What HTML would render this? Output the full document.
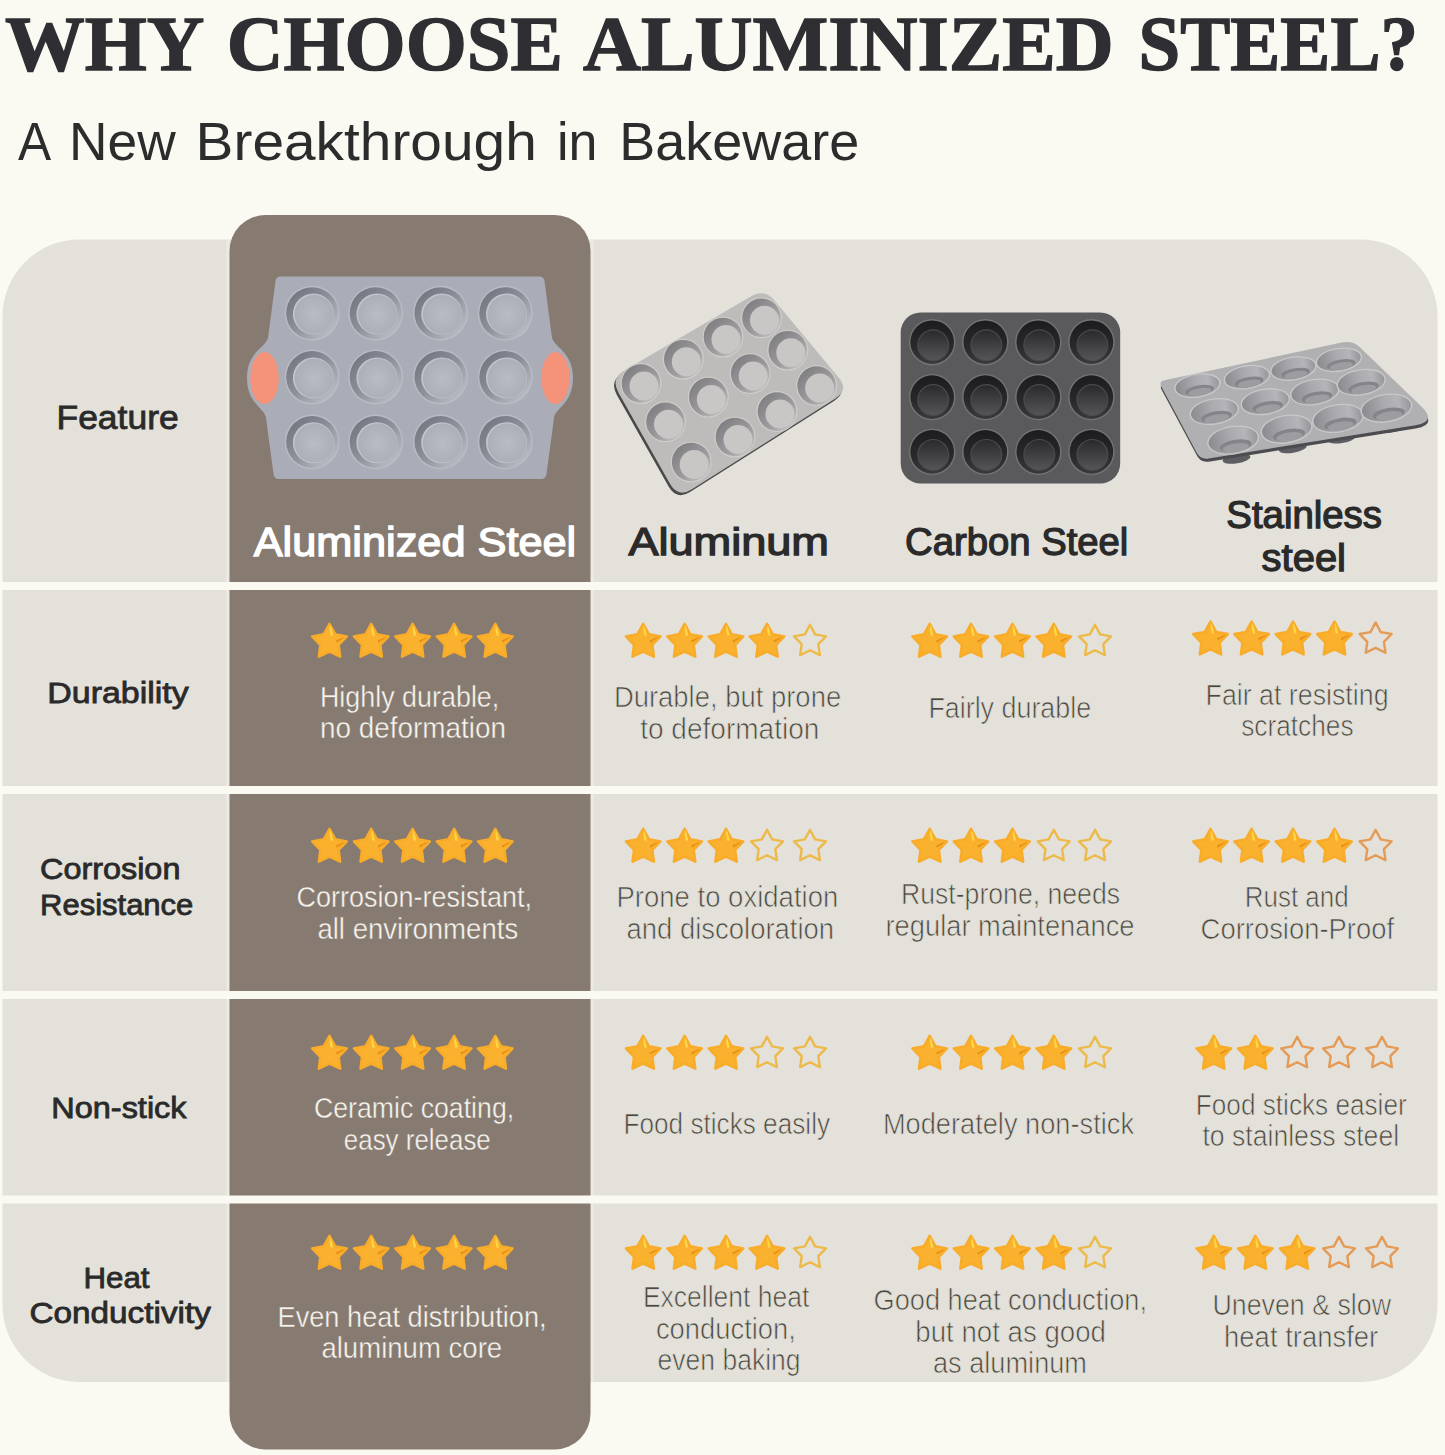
<!DOCTYPE html>
<html><head><meta charset="utf-8"><style>
html,body{margin:0;padding:0;background:#FAFAF3;width:1445px;height:1455px;overflow:hidden;}
svg{position:absolute;left:0;top:0;}
</style></head><body>
<svg width="1445" height="1455" viewBox="0 0 1445 1455">
<defs>

<linearGradient id="alwall" x1="0" y1="0" x2="1" y2="1">
<stop offset="0" stop-color="#6c6f7a"/><stop offset="0.5" stop-color="#8e919b"/><stop offset="1" stop-color="#c8cad1"/>
</linearGradient>
<radialGradient id="albot" cx="0.5" cy="0.5" r="0.5">
<stop offset="0" stop-color="#b9bbc5"/><stop offset="1" stop-color="#acaeb8"/>
</radialGradient>
<linearGradient id="aluwall" x1="0" y1="0" x2="1" y2="1">
<stop offset="0" stop-color="#77767a"/><stop offset="0.6" stop-color="#9e9c9e"/><stop offset="1" stop-color="#cfcdcc"/>
</linearGradient>
<linearGradient id="cswall" x1="0" y1="0" x2="0" y2="1">
<stop offset="0" stop-color="#1c1c1e"/><stop offset="0.6" stop-color="#29292b"/><stop offset="1" stop-color="#3a3a3c"/>
</linearGradient>
<linearGradient id="csbot" x1="0" y1="0" x2="0" y2="1">
<stop offset="0" stop-color="#2a2a2c"/><stop offset="1" stop-color="#555557"/>
</linearGradient>
<linearGradient id="sswall" x1="0" y1="0" x2="1" y2="0">
<stop offset="0" stop-color="#8a8a8f"/><stop offset="0.45" stop-color="#a9a9ae"/><stop offset="0.75" stop-color="#b4b4b9"/><stop offset="1" stop-color="#96969a"/>
</linearGradient>

<linearGradient id="sg" x1="0" y1="0" x2="0" y2="1">
<stop offset="0" stop-color="#FDBE3A"/><stop offset="1" stop-color="#F7A722"/>
</linearGradient>
</defs>
<rect x="0" y="0" width="1445" height="1455" fill="#FAFAF3"/>
<rect x="2.5" y="239.5" width="1435" height="1142.5" rx="77" ry="77" fill="#E3E1DA"/>
<rect x="226.5" y="239.5" width="3" height="1142.5" fill="#ECEBE3"/>
<rect x="590.5" y="239.5" width="3" height="1143" fill="#ECEBE3"/>
<rect x="229.5" y="215" width="361" height="1234.5" rx="36" ry="36" fill="#877A70"/>
<rect x="0" y="582" width="1445" height="8" fill="#FAFAF3"/>
<rect x="0" y="786" width="1445" height="8" fill="#FAFAF3"/>
<rect x="0" y="991" width="1445" height="8" fill="#FAFAF3"/>
<rect x="0" y="1195.5" width="1445" height="8" fill="#FAFAF3"/>
<path d="M 281,276.5 L 539,276.5 Q 544,276.5 544.5,281 L 552,338 C 555,348 573,352 573,378 C 573,404 555,408 554,418 L 546.5,474 Q 546,479 541,479 L 279,479 Q 274,479 273.5,474 L 266,418 C 265,408 247,404 247,378 C 247,352 265,348 268,338 L 275.5,281 Q 276,276.5 281,276.5 Z" fill="#AAACB7"/>
<ellipse cx="264.5" cy="378" rx="14.2" ry="26" fill="#F4937A"/>
<ellipse cx="555.5" cy="378" rx="14.2" ry="26" fill="#F4937A"/>
<circle cx="312.2" cy="313.2" r="27.5" fill="#B9BBC4"/>
<circle cx="312.2" cy="313.2" r="26" fill="url(#alwall)"/>
<circle cx="313.4" cy="314.0" r="20.5" fill="#C3C5CD"/>
<circle cx="314.0" cy="314.4" r="19.5" fill="url(#albot)"/>
<circle cx="375.7" cy="313.2" r="27.5" fill="#B9BBC4"/>
<circle cx="375.7" cy="313.2" r="26" fill="url(#alwall)"/>
<circle cx="376.9" cy="314.0" r="20.5" fill="#C3C5CD"/>
<circle cx="377.5" cy="314.4" r="19.5" fill="url(#albot)"/>
<circle cx="440.5" cy="313.2" r="27.5" fill="#B9BBC4"/>
<circle cx="440.5" cy="313.2" r="26" fill="url(#alwall)"/>
<circle cx="441.7" cy="314.0" r="20.5" fill="#C3C5CD"/>
<circle cx="442.3" cy="314.4" r="19.5" fill="url(#albot)"/>
<circle cx="505.3" cy="313.2" r="27.5" fill="#B9BBC4"/>
<circle cx="505.3" cy="313.2" r="26" fill="url(#alwall)"/>
<circle cx="506.5" cy="314.0" r="20.5" fill="#C3C5CD"/>
<circle cx="507.1" cy="314.4" r="19.5" fill="url(#albot)"/>
<circle cx="312.2" cy="377.1" r="27.5" fill="#B9BBC4"/>
<circle cx="312.2" cy="377.1" r="26" fill="url(#alwall)"/>
<circle cx="313.4" cy="377.90000000000003" r="20.5" fill="#C3C5CD"/>
<circle cx="314.0" cy="378.3" r="19.5" fill="url(#albot)"/>
<circle cx="375.7" cy="377.1" r="27.5" fill="#B9BBC4"/>
<circle cx="375.7" cy="377.1" r="26" fill="url(#alwall)"/>
<circle cx="376.9" cy="377.90000000000003" r="20.5" fill="#C3C5CD"/>
<circle cx="377.5" cy="378.3" r="19.5" fill="url(#albot)"/>
<circle cx="440.5" cy="377.1" r="27.5" fill="#B9BBC4"/>
<circle cx="440.5" cy="377.1" r="26" fill="url(#alwall)"/>
<circle cx="441.7" cy="377.90000000000003" r="20.5" fill="#C3C5CD"/>
<circle cx="442.3" cy="378.3" r="19.5" fill="url(#albot)"/>
<circle cx="505.3" cy="377.1" r="27.5" fill="#B9BBC4"/>
<circle cx="505.3" cy="377.1" r="26" fill="url(#alwall)"/>
<circle cx="506.5" cy="377.90000000000003" r="20.5" fill="#C3C5CD"/>
<circle cx="507.1" cy="378.3" r="19.5" fill="url(#albot)"/>
<circle cx="312.2" cy="441.9" r="27.5" fill="#B9BBC4"/>
<circle cx="312.2" cy="441.9" r="26" fill="url(#alwall)"/>
<circle cx="313.4" cy="442.7" r="20.5" fill="#C3C5CD"/>
<circle cx="314.0" cy="443.09999999999997" r="19.5" fill="url(#albot)"/>
<circle cx="375.7" cy="441.9" r="27.5" fill="#B9BBC4"/>
<circle cx="375.7" cy="441.9" r="26" fill="url(#alwall)"/>
<circle cx="376.9" cy="442.7" r="20.5" fill="#C3C5CD"/>
<circle cx="377.5" cy="443.09999999999997" r="19.5" fill="url(#albot)"/>
<circle cx="440.5" cy="441.9" r="27.5" fill="#B9BBC4"/>
<circle cx="440.5" cy="441.9" r="26" fill="url(#alwall)"/>
<circle cx="441.7" cy="442.7" r="20.5" fill="#C3C5CD"/>
<circle cx="442.3" cy="443.09999999999997" r="19.5" fill="url(#albot)"/>
<circle cx="505.3" cy="441.9" r="27.5" fill="#B9BBC4"/>
<circle cx="505.3" cy="441.9" r="26" fill="url(#alwall)"/>
<circle cx="506.5" cy="442.7" r="20.5" fill="#C3C5CD"/>
<circle cx="507.1" cy="443.09999999999997" r="19.5" fill="url(#albot)"/>
<path d="M 616.87,394.93 Q 609.00,381.00 622.81,372.92 L 749.19,298.98 Q 763.00,290.90 773.23,303.20 L 837.27,380.20 Q 847.50,392.50 833.97,401.04 L 690.03,491.96 Q 676.50,500.50 668.63,486.57 Z" fill="#4a4848"/>
<path d="M 618.37,392.43 Q 610.50,378.50 624.31,370.42 L 750.69,296.48 Q 764.50,288.40 774.73,300.70 L 838.77,377.70 Q 849.00,390.00 835.47,398.54 L 691.53,489.46 Q 678.00,498.00 670.13,484.07 Z" fill="#BEBCBB"/>
<circle cx="641" cy="383.5" r="20.5" fill="#CFCDCB"/>
<circle cx="641" cy="383.5" r="19.3" fill="url(#aluwall)"/>
<circle cx="644" cy="386.0" r="14.5" fill="#C9C7C6"/>
<circle cx="683.3" cy="359.2" r="20.5" fill="#CFCDCB"/>
<circle cx="683.3" cy="359.2" r="19.3" fill="url(#aluwall)"/>
<circle cx="686.3" cy="361.7" r="14.5" fill="#C9C7C6"/>
<circle cx="723" cy="337" r="20.5" fill="#CFCDCB"/>
<circle cx="723" cy="337" r="19.3" fill="url(#aluwall)"/>
<circle cx="726" cy="339.5" r="14.5" fill="#C9C7C6"/>
<circle cx="761.5" cy="317.8" r="20.5" fill="#CFCDCB"/>
<circle cx="761.5" cy="317.8" r="19.3" fill="url(#aluwall)"/>
<circle cx="764.5" cy="320.3" r="14.5" fill="#C9C7C6"/>
<circle cx="665.5" cy="421.8" r="20.5" fill="#CFCDCB"/>
<circle cx="665.5" cy="421.8" r="19.3" fill="url(#aluwall)"/>
<circle cx="668.5" cy="424.3" r="14.5" fill="#C9C7C6"/>
<circle cx="708.3" cy="397.1" r="20.5" fill="#CFCDCB"/>
<circle cx="708.3" cy="397.1" r="19.3" fill="url(#aluwall)"/>
<circle cx="711.3" cy="399.6" r="14.5" fill="#C9C7C6"/>
<circle cx="750.2" cy="373.6" r="20.5" fill="#CFCDCB"/>
<circle cx="750.2" cy="373.6" r="19.3" fill="url(#aluwall)"/>
<circle cx="753.2" cy="376.1" r="14.5" fill="#C9C7C6"/>
<circle cx="787.8" cy="350.2" r="20.5" fill="#CFCDCB"/>
<circle cx="787.8" cy="350.2" r="19.3" fill="url(#aluwall)"/>
<circle cx="790.8" cy="352.7" r="14.5" fill="#C9C7C6"/>
<circle cx="691.2" cy="462" r="20.5" fill="#CFCDCB"/>
<circle cx="691.2" cy="462" r="19.3" fill="url(#aluwall)"/>
<circle cx="694.2" cy="464.5" r="14.5" fill="#C9C7C6"/>
<circle cx="735" cy="437" r="20.5" fill="#CFCDCB"/>
<circle cx="735" cy="437" r="19.3" fill="url(#aluwall)"/>
<circle cx="738" cy="439.5" r="14.5" fill="#C9C7C6"/>
<circle cx="777" cy="411.6" r="20.5" fill="#CFCDCB"/>
<circle cx="777" cy="411.6" r="19.3" fill="url(#aluwall)"/>
<circle cx="780" cy="414.1" r="14.5" fill="#C9C7C6"/>
<circle cx="816.6" cy="385.6" r="20.5" fill="#CFCDCB"/>
<circle cx="816.6" cy="385.6" r="19.3" fill="url(#aluwall)"/>
<circle cx="819.6" cy="388.1" r="14.5" fill="#C9C7C6"/>
<rect x="900.7" y="312.5" width="219.5" height="171" rx="20" fill="#5A5A5C"/>
<circle cx="932.2" cy="342.2" r="23.2" fill="#747476"/>
<circle cx="932.2" cy="342.2" r="21.8" fill="url(#cswall)"/>
<circle cx="933.2" cy="345.2" r="16" fill="#4a4a4c"/>
<circle cx="933.2" cy="345.2" r="14.8" fill="url(#csbot)"/>
<circle cx="985.3" cy="342.2" r="23.2" fill="#747476"/>
<circle cx="985.3" cy="342.2" r="21.8" fill="url(#cswall)"/>
<circle cx="986.3" cy="345.2" r="16" fill="#4a4a4c"/>
<circle cx="986.3" cy="345.2" r="14.8" fill="url(#csbot)"/>
<circle cx="1038.3" cy="342.2" r="23.2" fill="#747476"/>
<circle cx="1038.3" cy="342.2" r="21.8" fill="url(#cswall)"/>
<circle cx="1039.3" cy="345.2" r="16" fill="#4a4a4c"/>
<circle cx="1039.3" cy="345.2" r="14.8" fill="url(#csbot)"/>
<circle cx="1091.4" cy="342.2" r="23.2" fill="#747476"/>
<circle cx="1091.4" cy="342.2" r="21.8" fill="url(#cswall)"/>
<circle cx="1092.4" cy="345.2" r="16" fill="#4a4a4c"/>
<circle cx="1092.4" cy="345.2" r="14.8" fill="url(#csbot)"/>
<circle cx="932.2" cy="397.1" r="23.2" fill="#747476"/>
<circle cx="932.2" cy="397.1" r="21.8" fill="url(#cswall)"/>
<circle cx="933.2" cy="400.1" r="16" fill="#4a4a4c"/>
<circle cx="933.2" cy="400.1" r="14.8" fill="url(#csbot)"/>
<circle cx="985.3" cy="397.1" r="23.2" fill="#747476"/>
<circle cx="985.3" cy="397.1" r="21.8" fill="url(#cswall)"/>
<circle cx="986.3" cy="400.1" r="16" fill="#4a4a4c"/>
<circle cx="986.3" cy="400.1" r="14.8" fill="url(#csbot)"/>
<circle cx="1038.3" cy="397.1" r="23.2" fill="#747476"/>
<circle cx="1038.3" cy="397.1" r="21.8" fill="url(#cswall)"/>
<circle cx="1039.3" cy="400.1" r="16" fill="#4a4a4c"/>
<circle cx="1039.3" cy="400.1" r="14.8" fill="url(#csbot)"/>
<circle cx="1091.4" cy="397.1" r="23.2" fill="#747476"/>
<circle cx="1091.4" cy="397.1" r="21.8" fill="url(#cswall)"/>
<circle cx="1092.4" cy="400.1" r="16" fill="#4a4a4c"/>
<circle cx="1092.4" cy="400.1" r="14.8" fill="url(#csbot)"/>
<circle cx="932.2" cy="451.9" r="23.2" fill="#747476"/>
<circle cx="932.2" cy="451.9" r="21.8" fill="url(#cswall)"/>
<circle cx="933.2" cy="454.9" r="16" fill="#4a4a4c"/>
<circle cx="933.2" cy="454.9" r="14.8" fill="url(#csbot)"/>
<circle cx="985.3" cy="451.9" r="23.2" fill="#747476"/>
<circle cx="985.3" cy="451.9" r="21.8" fill="url(#cswall)"/>
<circle cx="986.3" cy="454.9" r="16" fill="#4a4a4c"/>
<circle cx="986.3" cy="454.9" r="14.8" fill="url(#csbot)"/>
<circle cx="1038.3" cy="451.9" r="23.2" fill="#747476"/>
<circle cx="1038.3" cy="451.9" r="21.8" fill="url(#cswall)"/>
<circle cx="1039.3" cy="454.9" r="16" fill="#4a4a4c"/>
<circle cx="1039.3" cy="454.9" r="14.8" fill="url(#csbot)"/>
<circle cx="1091.4" cy="451.9" r="23.2" fill="#747476"/>
<circle cx="1091.4" cy="451.9" r="21.8" fill="url(#cswall)"/>
<circle cx="1092.4" cy="454.9" r="16" fill="#4a4a4c"/>
<circle cx="1092.4" cy="454.9" r="14.8" fill="url(#csbot)"/>
<ellipse cx="1236.5" cy="458.8" rx="14" ry="4.6" transform="rotate(-9 1236.5 458.8)" fill="#5e5e62"/>
<ellipse cx="1292.7" cy="448.2" rx="14" ry="4.6" transform="rotate(-9 1292.7 448.2)" fill="#5e5e62"/>
<ellipse cx="1341.6" cy="438.5" rx="14" ry="4.6" transform="rotate(-9 1341.6 438.5)" fill="#5e5e62"/>
<ellipse cx="1390.6" cy="428" rx="14" ry="4.6" transform="rotate(-9 1390.6 428)" fill="#5e5e62"/>
<path d="M 1161.73,389.89 Q 1158.90,384.60 1164.77,383.36 L 1343.22,345.57 Q 1353.00,343.50 1360.20,350.44 L 1421.67,409.73 Q 1437.50,425.00 1415.78,428.48 L 1208.70,461.64 Q 1200.80,462.90 1197.03,455.85 Z" fill="#4c4c50"/>
<path d="M 1161.43,386.69 Q 1158.60,381.40 1164.47,380.16 L 1342.92,342.37 Q 1352.70,340.30 1359.90,347.24 L 1421.37,406.53 Q 1437.20,421.80 1415.48,425.28 L 1208.40,458.44 Q 1200.50,459.70 1196.73,452.65 Z" fill="#B0B0B2"/>
<ellipse cx="1197.4" cy="385.6" rx="23.5" ry="12" transform="rotate(-9 1197.4 385.6)" fill="#C8C8CA"/>
<ellipse cx="1197.4" cy="385.6" rx="22.0" ry="10.7" transform="rotate(-9 1197.4 385.6)" fill="url(#sswall)"/>
<ellipse cx="1198.9" cy="390.64" rx="14.57" ry="5.04" transform="rotate(-9 1197.4 385.6)" fill="#858589"/>
<ellipse cx="1198.9" cy="392.20" rx="11.75" ry="3.60" transform="rotate(-9 1197.4 385.6)" fill="#9d9da1"/>
<ellipse cx="1246.9" cy="377.2" rx="23.5" ry="12" transform="rotate(-9 1246.9 377.2)" fill="#C8C8CA"/>
<ellipse cx="1246.9" cy="377.2" rx="22.0" ry="10.7" transform="rotate(-9 1246.9 377.2)" fill="url(#sswall)"/>
<ellipse cx="1248.4" cy="382.24" rx="14.57" ry="5.04" transform="rotate(-9 1246.9 377.2)" fill="#858589"/>
<ellipse cx="1248.4" cy="383.80" rx="11.75" ry="3.60" transform="rotate(-9 1246.9 377.2)" fill="#9d9da1"/>
<ellipse cx="1293.4" cy="368.5" rx="23.5" ry="12" transform="rotate(-9 1293.4 368.5)" fill="#C8C8CA"/>
<ellipse cx="1293.4" cy="368.5" rx="22.0" ry="10.7" transform="rotate(-9 1293.4 368.5)" fill="url(#sswall)"/>
<ellipse cx="1294.9" cy="373.54" rx="14.57" ry="5.04" transform="rotate(-9 1293.4 368.5)" fill="#858589"/>
<ellipse cx="1294.9" cy="375.10" rx="11.75" ry="3.60" transform="rotate(-9 1293.4 368.5)" fill="#9d9da1"/>
<ellipse cx="1338.9" cy="359.8" rx="23.5" ry="12" transform="rotate(-9 1338.9 359.8)" fill="#C8C8CA"/>
<ellipse cx="1338.9" cy="359.8" rx="22.0" ry="10.7" transform="rotate(-9 1338.9 359.8)" fill="url(#sswall)"/>
<ellipse cx="1340.4" cy="364.84" rx="14.57" ry="5.04" transform="rotate(-9 1338.9 359.8)" fill="#858589"/>
<ellipse cx="1340.4" cy="366.40" rx="11.75" ry="3.60" transform="rotate(-9 1338.9 359.8)" fill="#9d9da1"/>
<ellipse cx="1214.3" cy="411.5" rx="25" ry="13.2" transform="rotate(-9 1214.3 411.5)" fill="#C8C8CA"/>
<ellipse cx="1214.3" cy="411.5" rx="23.5" ry="11.899999999999999" transform="rotate(-9 1214.3 411.5)" fill="url(#sswall)"/>
<ellipse cx="1215.8" cy="417.04" rx="15.50" ry="5.54" transform="rotate(-9 1214.3 411.5)" fill="#858589"/>
<ellipse cx="1215.8" cy="418.76" rx="12.50" ry="3.96" transform="rotate(-9 1214.3 411.5)" fill="#9d9da1"/>
<ellipse cx="1265.3" cy="401.7" rx="25" ry="13.2" transform="rotate(-9 1265.3 401.7)" fill="#C8C8CA"/>
<ellipse cx="1265.3" cy="401.7" rx="23.5" ry="11.899999999999999" transform="rotate(-9 1265.3 401.7)" fill="url(#sswall)"/>
<ellipse cx="1266.8" cy="407.24" rx="15.50" ry="5.54" transform="rotate(-9 1265.3 401.7)" fill="#858589"/>
<ellipse cx="1266.8" cy="408.96" rx="12.50" ry="3.96" transform="rotate(-9 1265.3 401.7)" fill="#9d9da1"/>
<ellipse cx="1314.7" cy="392" rx="25" ry="13.2" transform="rotate(-9 1314.7 392)" fill="#C8C8CA"/>
<ellipse cx="1314.7" cy="392" rx="23.5" ry="11.899999999999999" transform="rotate(-9 1314.7 392)" fill="url(#sswall)"/>
<ellipse cx="1316.2" cy="397.54" rx="15.50" ry="5.54" transform="rotate(-9 1314.7 392)" fill="#858589"/>
<ellipse cx="1316.2" cy="399.26" rx="12.50" ry="3.96" transform="rotate(-9 1314.7 392)" fill="#9d9da1"/>
<ellipse cx="1361.2" cy="382.3" rx="25" ry="13.2" transform="rotate(-9 1361.2 382.3)" fill="#C8C8CA"/>
<ellipse cx="1361.2" cy="382.3" rx="23.5" ry="11.899999999999999" transform="rotate(-9 1361.2 382.3)" fill="url(#sswall)"/>
<ellipse cx="1362.7" cy="387.84" rx="15.50" ry="5.54" transform="rotate(-9 1361.2 382.3)" fill="#858589"/>
<ellipse cx="1362.7" cy="389.56" rx="12.50" ry="3.96" transform="rotate(-9 1361.2 382.3)" fill="#9d9da1"/>
<ellipse cx="1233.1" cy="440.1" rx="26.3" ry="14.3" transform="rotate(-9 1233.1 440.1)" fill="#C8C8CA"/>
<ellipse cx="1233.1" cy="440.1" rx="24.8" ry="13.0" transform="rotate(-9 1233.1 440.1)" fill="url(#sswall)"/>
<ellipse cx="1234.6" cy="446.11" rx="16.31" ry="6.01" transform="rotate(-9 1233.1 440.1)" fill="#858589"/>
<ellipse cx="1234.6" cy="447.97" rx="13.15" ry="4.29" transform="rotate(-9 1233.1 440.1)" fill="#9d9da1"/>
<ellipse cx="1286.6" cy="429.2" rx="26.3" ry="14.3" transform="rotate(-9 1286.6 429.2)" fill="#C8C8CA"/>
<ellipse cx="1286.6" cy="429.2" rx="24.8" ry="13.0" transform="rotate(-9 1286.6 429.2)" fill="url(#sswall)"/>
<ellipse cx="1288.1" cy="435.21" rx="16.31" ry="6.01" transform="rotate(-9 1286.6 429.2)" fill="#858589"/>
<ellipse cx="1288.1" cy="437.06" rx="13.15" ry="4.29" transform="rotate(-9 1286.6 429.2)" fill="#9d9da1"/>
<ellipse cx="1338" cy="418.4" rx="26.3" ry="14.3" transform="rotate(-9 1338 418.4)" fill="#C8C8CA"/>
<ellipse cx="1338" cy="418.4" rx="24.8" ry="13.0" transform="rotate(-9 1338 418.4)" fill="url(#sswall)"/>
<ellipse cx="1339.5" cy="424.41" rx="16.31" ry="6.01" transform="rotate(-9 1338 418.4)" fill="#858589"/>
<ellipse cx="1339.5" cy="426.26" rx="13.15" ry="4.29" transform="rotate(-9 1338 418.4)" fill="#9d9da1"/>
<ellipse cx="1386.4" cy="408.2" rx="26.3" ry="14.3" transform="rotate(-9 1386.4 408.2)" fill="#C8C8CA"/>
<ellipse cx="1386.4" cy="408.2" rx="24.8" ry="13.0" transform="rotate(-9 1386.4 408.2)" fill="url(#sswall)"/>
<ellipse cx="1387.9" cy="414.21" rx="16.31" ry="6.01" transform="rotate(-9 1386.4 408.2)" fill="#858589"/>
<ellipse cx="1387.9" cy="416.06" rx="13.15" ry="4.29" transform="rotate(-9 1386.4 408.2)" fill="#9d9da1"/>
<polygon points="329.50,623.80 335.17,634.20 346.81,636.38 338.67,644.98 340.20,656.72 329.50,651.65 318.80,656.72 320.33,644.98 312.19,636.38 323.83,634.20" fill="#FAB12D" stroke="#F8AC29" stroke-width="2.5" stroke-linejoin="round"/>
<path d="M 329.80,625.00 Q 331.50,627.00 333.10,635.50 L 330.70,635.80 Q 329.20,630.00 329.80,625.00 Z" fill="#FFD748"/>
<path d="M 336.50,642.80 L 345.00,637.20 L 342.00,637.70 L 336.00,640.50 Z" fill="#E28A12" opacity="0.85"/>
<polygon points="371.20,623.80 376.87,634.20 388.51,636.38 380.37,644.98 381.90,656.72 371.20,651.65 360.50,656.72 362.03,644.98 353.89,636.38 365.53,634.20" fill="#FAB12D" stroke="#F8AC29" stroke-width="2.5" stroke-linejoin="round"/>
<path d="M 371.50,625.00 Q 373.20,627.00 374.80,635.50 L 372.40,635.80 Q 370.90,630.00 371.50,625.00 Z" fill="#FFD748"/>
<path d="M 378.20,642.80 L 386.70,637.20 L 383.70,637.70 L 377.70,640.50 Z" fill="#E28A12" opacity="0.85"/>
<polygon points="412.60,623.80 418.27,634.20 429.91,636.38 421.77,644.98 423.30,656.72 412.60,651.65 401.90,656.72 403.43,644.98 395.29,636.38 406.93,634.20" fill="#FAB12D" stroke="#F8AC29" stroke-width="2.5" stroke-linejoin="round"/>
<path d="M 412.90,625.00 Q 414.60,627.00 416.20,635.50 L 413.80,635.80 Q 412.30,630.00 412.90,625.00 Z" fill="#FFD748"/>
<path d="M 419.60,642.80 L 428.10,637.20 L 425.10,637.70 L 419.10,640.50 Z" fill="#E28A12" opacity="0.85"/>
<polygon points="454.10,623.80 459.77,634.20 471.41,636.38 463.27,644.98 464.80,656.72 454.10,651.65 443.40,656.72 444.93,644.98 436.79,636.38 448.43,634.20" fill="#FAB12D" stroke="#F8AC29" stroke-width="2.5" stroke-linejoin="round"/>
<path d="M 454.40,625.00 Q 456.10,627.00 457.70,635.50 L 455.30,635.80 Q 453.80,630.00 454.40,625.00 Z" fill="#FFD748"/>
<path d="M 461.10,642.80 L 469.60,637.20 L 466.60,637.70 L 460.60,640.50 Z" fill="#E28A12" opacity="0.85"/>
<polygon points="495.30,623.80 500.97,634.20 512.61,636.38 504.47,644.98 506.00,656.72 495.30,651.65 484.60,656.72 486.13,644.98 477.99,636.38 489.63,634.20" fill="#FAB12D" stroke="#F8AC29" stroke-width="2.5" stroke-linejoin="round"/>
<path d="M 495.60,625.00 Q 497.30,627.00 498.90,635.50 L 496.50,635.80 Q 495.00,630.00 495.60,625.00 Z" fill="#FFD748"/>
<path d="M 502.30,642.80 L 510.80,637.20 L 507.80,637.70 L 501.80,640.50 Z" fill="#E28A12" opacity="0.85"/>
<polygon points="643.20,623.80 648.87,634.20 660.51,636.38 652.37,644.98 653.90,656.72 643.20,651.65 632.50,656.72 634.03,644.98 625.89,636.38 637.53,634.20" fill="#FAB12D" stroke="#F8AC29" stroke-width="2.5" stroke-linejoin="round"/>
<path d="M 643.50,625.00 Q 645.20,627.00 646.80,635.50 L 644.40,635.80 Q 642.90,630.00 643.50,625.00 Z" fill="#FFD748"/>
<path d="M 650.20,642.80 L 658.70,637.20 L 655.70,637.70 L 649.70,640.50 Z" fill="#E28A12" opacity="0.85"/>
<polygon points="684.60,623.80 690.27,634.20 701.91,636.38 693.77,644.98 695.30,656.72 684.60,651.65 673.90,656.72 675.43,644.98 667.29,636.38 678.93,634.20" fill="#FAB12D" stroke="#F8AC29" stroke-width="2.5" stroke-linejoin="round"/>
<path d="M 684.90,625.00 Q 686.60,627.00 688.20,635.50 L 685.80,635.80 Q 684.30,630.00 684.90,625.00 Z" fill="#FFD748"/>
<path d="M 691.60,642.80 L 700.10,637.20 L 697.10,637.70 L 691.10,640.50 Z" fill="#E28A12" opacity="0.85"/>
<polygon points="726.00,623.80 731.67,634.20 743.31,636.38 735.17,644.98 736.70,656.72 726.00,651.65 715.30,656.72 716.83,644.98 708.69,636.38 720.33,634.20" fill="#FAB12D" stroke="#F8AC29" stroke-width="2.5" stroke-linejoin="round"/>
<path d="M 726.30,625.00 Q 728.00,627.00 729.60,635.50 L 727.20,635.80 Q 725.70,630.00 726.30,625.00 Z" fill="#FFD748"/>
<path d="M 733.00,642.80 L 741.50,637.20 L 738.50,637.70 L 732.50,640.50 Z" fill="#E28A12" opacity="0.85"/>
<polygon points="767.00,623.80 772.67,634.20 784.31,636.38 776.17,644.98 777.70,656.72 767.00,651.65 756.30,656.72 757.83,644.98 749.69,636.38 761.33,634.20" fill="#FAB12D" stroke="#F8AC29" stroke-width="2.5" stroke-linejoin="round"/>
<path d="M 767.30,625.00 Q 769.00,627.00 770.60,635.50 L 768.20,635.80 Q 766.70,630.00 767.30,625.00 Z" fill="#FFD748"/>
<path d="M 774.00,642.80 L 782.50,637.20 L 779.50,637.70 L 773.50,640.50 Z" fill="#E28A12" opacity="0.85"/>
<polygon points="810.00,624.70 815.13,634.43 825.98,636.31 818.31,644.20 819.87,655.09 810.00,650.24 800.13,655.09 801.69,644.20 794.02,636.31 804.87,634.43" fill="none" stroke="#EDBA4A" stroke-width="2.4" stroke-linejoin="round"/>
<polygon points="929.70,623.80 935.37,634.20 947.01,636.38 938.87,644.98 940.40,656.72 929.70,651.65 919.00,656.72 920.53,644.98 912.39,636.38 924.03,634.20" fill="#FAB12D" stroke="#F8AC29" stroke-width="2.5" stroke-linejoin="round"/>
<path d="M 930.00,625.00 Q 931.70,627.00 933.30,635.50 L 930.90,635.80 Q 929.40,630.00 930.00,625.00 Z" fill="#FFD748"/>
<path d="M 936.70,642.80 L 945.20,637.20 L 942.20,637.70 L 936.20,640.50 Z" fill="#E28A12" opacity="0.85"/>
<polygon points="971.00,623.80 976.67,634.20 988.31,636.38 980.17,644.98 981.70,656.72 971.00,651.65 960.30,656.72 961.83,644.98 953.69,636.38 965.33,634.20" fill="#FAB12D" stroke="#F8AC29" stroke-width="2.5" stroke-linejoin="round"/>
<path d="M 971.30,625.00 Q 973.00,627.00 974.60,635.50 L 972.20,635.80 Q 970.70,630.00 971.30,625.00 Z" fill="#FFD748"/>
<path d="M 978.00,642.80 L 986.50,637.20 L 983.50,637.70 L 977.50,640.50 Z" fill="#E28A12" opacity="0.85"/>
<polygon points="1012.50,623.80 1018.17,634.20 1029.81,636.38 1021.67,644.98 1023.20,656.72 1012.50,651.65 1001.80,656.72 1003.33,644.98 995.19,636.38 1006.83,634.20" fill="#FAB12D" stroke="#F8AC29" stroke-width="2.5" stroke-linejoin="round"/>
<path d="M 1012.80,625.00 Q 1014.50,627.00 1016.10,635.50 L 1013.70,635.80 Q 1012.20,630.00 1012.80,625.00 Z" fill="#FFD748"/>
<path d="M 1019.50,642.80 L 1028.00,637.20 L 1025.00,637.70 L 1019.00,640.50 Z" fill="#E28A12" opacity="0.85"/>
<polygon points="1053.80,623.80 1059.47,634.20 1071.11,636.38 1062.97,644.98 1064.50,656.72 1053.80,651.65 1043.10,656.72 1044.63,644.98 1036.49,636.38 1048.13,634.20" fill="#FAB12D" stroke="#F8AC29" stroke-width="2.5" stroke-linejoin="round"/>
<path d="M 1054.10,625.00 Q 1055.80,627.00 1057.40,635.50 L 1055.00,635.80 Q 1053.50,630.00 1054.10,625.00 Z" fill="#FFD748"/>
<path d="M 1060.80,642.80 L 1069.30,637.20 L 1066.30,637.70 L 1060.30,640.50 Z" fill="#E28A12" opacity="0.85"/>
<polygon points="1095.00,624.70 1100.13,634.43 1110.98,636.31 1103.31,644.20 1104.87,655.09 1095.00,650.24 1085.13,655.09 1086.69,644.20 1079.02,636.31 1089.87,634.43" fill="none" stroke="#EDBA4A" stroke-width="2.4" stroke-linejoin="round"/>
<polygon points="1210.50,621.50 1216.17,631.90 1227.81,634.08 1219.67,642.68 1221.20,654.42 1210.50,649.35 1199.80,654.42 1201.33,642.68 1193.19,634.08 1204.83,631.90" fill="#FAB12D" stroke="#F8AC29" stroke-width="2.5" stroke-linejoin="round"/>
<path d="M 1210.80,622.70 Q 1212.50,624.70 1214.10,633.20 L 1211.70,633.50 Q 1210.20,627.70 1210.80,622.70 Z" fill="#FFD748"/>
<path d="M 1217.50,640.50 L 1226.00,634.90 L 1223.00,635.40 L 1217.00,638.20 Z" fill="#E28A12" opacity="0.85"/>
<polygon points="1251.60,621.50 1257.27,631.90 1268.91,634.08 1260.77,642.68 1262.30,654.42 1251.60,649.35 1240.90,654.42 1242.43,642.68 1234.29,634.08 1245.93,631.90" fill="#FAB12D" stroke="#F8AC29" stroke-width="2.5" stroke-linejoin="round"/>
<path d="M 1251.90,622.70 Q 1253.60,624.70 1255.20,633.20 L 1252.80,633.50 Q 1251.30,627.70 1251.90,622.70 Z" fill="#FFD748"/>
<path d="M 1258.60,640.50 L 1267.10,634.90 L 1264.10,635.40 L 1258.10,638.20 Z" fill="#E28A12" opacity="0.85"/>
<polygon points="1293.00,621.50 1298.67,631.90 1310.31,634.08 1302.17,642.68 1303.70,654.42 1293.00,649.35 1282.30,654.42 1283.83,642.68 1275.69,634.08 1287.33,631.90" fill="#FAB12D" stroke="#F8AC29" stroke-width="2.5" stroke-linejoin="round"/>
<path d="M 1293.30,622.70 Q 1295.00,624.70 1296.60,633.20 L 1294.20,633.50 Q 1292.70,627.70 1293.30,622.70 Z" fill="#FFD748"/>
<path d="M 1300.00,640.50 L 1308.50,634.90 L 1305.50,635.40 L 1299.50,638.20 Z" fill="#E28A12" opacity="0.85"/>
<polygon points="1334.50,621.50 1340.17,631.90 1351.81,634.08 1343.67,642.68 1345.20,654.42 1334.50,649.35 1323.80,654.42 1325.33,642.68 1317.19,634.08 1328.83,631.90" fill="#FAB12D" stroke="#F8AC29" stroke-width="2.5" stroke-linejoin="round"/>
<path d="M 1334.80,622.70 Q 1336.50,624.70 1338.10,633.20 L 1335.70,633.50 Q 1334.20,627.70 1334.80,622.70 Z" fill="#FFD748"/>
<path d="M 1341.50,640.50 L 1350.00,634.90 L 1347.00,635.40 L 1341.00,638.20 Z" fill="#E28A12" opacity="0.85"/>
<polygon points="1375.60,622.40 1380.73,632.13 1391.58,634.01 1383.91,641.90 1385.47,652.79 1375.60,647.94 1365.73,652.79 1367.29,641.90 1359.62,634.01 1370.47,632.13" fill="none" stroke="#E59A55" stroke-width="2.4" stroke-linejoin="round"/>
<polygon points="329.50,828.80 335.17,839.20 346.81,841.38 338.67,849.98 340.20,861.72 329.50,856.65 318.80,861.72 320.33,849.98 312.19,841.38 323.83,839.20" fill="#FAB12D" stroke="#F8AC29" stroke-width="2.5" stroke-linejoin="round"/>
<path d="M 329.80,830.00 Q 331.50,832.00 333.10,840.50 L 330.70,840.80 Q 329.20,835.00 329.80,830.00 Z" fill="#FFD748"/>
<path d="M 336.50,847.80 L 345.00,842.20 L 342.00,842.70 L 336.00,845.50 Z" fill="#E28A12" opacity="0.85"/>
<polygon points="371.20,828.80 376.87,839.20 388.51,841.38 380.37,849.98 381.90,861.72 371.20,856.65 360.50,861.72 362.03,849.98 353.89,841.38 365.53,839.20" fill="#FAB12D" stroke="#F8AC29" stroke-width="2.5" stroke-linejoin="round"/>
<path d="M 371.50,830.00 Q 373.20,832.00 374.80,840.50 L 372.40,840.80 Q 370.90,835.00 371.50,830.00 Z" fill="#FFD748"/>
<path d="M 378.20,847.80 L 386.70,842.20 L 383.70,842.70 L 377.70,845.50 Z" fill="#E28A12" opacity="0.85"/>
<polygon points="412.60,828.80 418.27,839.20 429.91,841.38 421.77,849.98 423.30,861.72 412.60,856.65 401.90,861.72 403.43,849.98 395.29,841.38 406.93,839.20" fill="#FAB12D" stroke="#F8AC29" stroke-width="2.5" stroke-linejoin="round"/>
<path d="M 412.90,830.00 Q 414.60,832.00 416.20,840.50 L 413.80,840.80 Q 412.30,835.00 412.90,830.00 Z" fill="#FFD748"/>
<path d="M 419.60,847.80 L 428.10,842.20 L 425.10,842.70 L 419.10,845.50 Z" fill="#E28A12" opacity="0.85"/>
<polygon points="454.10,828.80 459.77,839.20 471.41,841.38 463.27,849.98 464.80,861.72 454.10,856.65 443.40,861.72 444.93,849.98 436.79,841.38 448.43,839.20" fill="#FAB12D" stroke="#F8AC29" stroke-width="2.5" stroke-linejoin="round"/>
<path d="M 454.40,830.00 Q 456.10,832.00 457.70,840.50 L 455.30,840.80 Q 453.80,835.00 454.40,830.00 Z" fill="#FFD748"/>
<path d="M 461.10,847.80 L 469.60,842.20 L 466.60,842.70 L 460.60,845.50 Z" fill="#E28A12" opacity="0.85"/>
<polygon points="495.30,828.80 500.97,839.20 512.61,841.38 504.47,849.98 506.00,861.72 495.30,856.65 484.60,861.72 486.13,849.98 477.99,841.38 489.63,839.20" fill="#FAB12D" stroke="#F8AC29" stroke-width="2.5" stroke-linejoin="round"/>
<path d="M 495.60,830.00 Q 497.30,832.00 498.90,840.50 L 496.50,840.80 Q 495.00,835.00 495.60,830.00 Z" fill="#FFD748"/>
<path d="M 502.30,847.80 L 510.80,842.20 L 507.80,842.70 L 501.80,845.50 Z" fill="#E28A12" opacity="0.85"/>
<polygon points="643.20,828.80 648.87,839.20 660.51,841.38 652.37,849.98 653.90,861.72 643.20,856.65 632.50,861.72 634.03,849.98 625.89,841.38 637.53,839.20" fill="#FAB12D" stroke="#F8AC29" stroke-width="2.5" stroke-linejoin="round"/>
<path d="M 643.50,830.00 Q 645.20,832.00 646.80,840.50 L 644.40,840.80 Q 642.90,835.00 643.50,830.00 Z" fill="#FFD748"/>
<path d="M 650.20,847.80 L 658.70,842.20 L 655.70,842.70 L 649.70,845.50 Z" fill="#E28A12" opacity="0.85"/>
<polygon points="684.60,828.80 690.27,839.20 701.91,841.38 693.77,849.98 695.30,861.72 684.60,856.65 673.90,861.72 675.43,849.98 667.29,841.38 678.93,839.20" fill="#FAB12D" stroke="#F8AC29" stroke-width="2.5" stroke-linejoin="round"/>
<path d="M 684.90,830.00 Q 686.60,832.00 688.20,840.50 L 685.80,840.80 Q 684.30,835.00 684.90,830.00 Z" fill="#FFD748"/>
<path d="M 691.60,847.80 L 700.10,842.20 L 697.10,842.70 L 691.10,845.50 Z" fill="#E28A12" opacity="0.85"/>
<polygon points="726.00,828.80 731.67,839.20 743.31,841.38 735.17,849.98 736.70,861.72 726.00,856.65 715.30,861.72 716.83,849.98 708.69,841.38 720.33,839.20" fill="#FAB12D" stroke="#F8AC29" stroke-width="2.5" stroke-linejoin="round"/>
<path d="M 726.30,830.00 Q 728.00,832.00 729.60,840.50 L 727.20,840.80 Q 725.70,835.00 726.30,830.00 Z" fill="#FFD748"/>
<path d="M 733.00,847.80 L 741.50,842.20 L 738.50,842.70 L 732.50,845.50 Z" fill="#E28A12" opacity="0.85"/>
<polygon points="767.00,829.70 772.13,839.43 782.98,841.31 775.31,849.20 776.87,860.09 767.00,855.24 757.13,860.09 758.69,849.20 751.02,841.31 761.87,839.43" fill="none" stroke="#EDBA4A" stroke-width="2.4" stroke-linejoin="round"/>
<polygon points="810.00,829.70 815.13,839.43 825.98,841.31 818.31,849.20 819.87,860.09 810.00,855.24 800.13,860.09 801.69,849.20 794.02,841.31 804.87,839.43" fill="none" stroke="#EDBA4A" stroke-width="2.4" stroke-linejoin="round"/>
<polygon points="929.70,828.80 935.37,839.20 947.01,841.38 938.87,849.98 940.40,861.72 929.70,856.65 919.00,861.72 920.53,849.98 912.39,841.38 924.03,839.20" fill="#FAB12D" stroke="#F8AC29" stroke-width="2.5" stroke-linejoin="round"/>
<path d="M 930.00,830.00 Q 931.70,832.00 933.30,840.50 L 930.90,840.80 Q 929.40,835.00 930.00,830.00 Z" fill="#FFD748"/>
<path d="M 936.70,847.80 L 945.20,842.20 L 942.20,842.70 L 936.20,845.50 Z" fill="#E28A12" opacity="0.85"/>
<polygon points="971.00,828.80 976.67,839.20 988.31,841.38 980.17,849.98 981.70,861.72 971.00,856.65 960.30,861.72 961.83,849.98 953.69,841.38 965.33,839.20" fill="#FAB12D" stroke="#F8AC29" stroke-width="2.5" stroke-linejoin="round"/>
<path d="M 971.30,830.00 Q 973.00,832.00 974.60,840.50 L 972.20,840.80 Q 970.70,835.00 971.30,830.00 Z" fill="#FFD748"/>
<path d="M 978.00,847.80 L 986.50,842.20 L 983.50,842.70 L 977.50,845.50 Z" fill="#E28A12" opacity="0.85"/>
<polygon points="1012.50,828.80 1018.17,839.20 1029.81,841.38 1021.67,849.98 1023.20,861.72 1012.50,856.65 1001.80,861.72 1003.33,849.98 995.19,841.38 1006.83,839.20" fill="#FAB12D" stroke="#F8AC29" stroke-width="2.5" stroke-linejoin="round"/>
<path d="M 1012.80,830.00 Q 1014.50,832.00 1016.10,840.50 L 1013.70,840.80 Q 1012.20,835.00 1012.80,830.00 Z" fill="#FFD748"/>
<path d="M 1019.50,847.80 L 1028.00,842.20 L 1025.00,842.70 L 1019.00,845.50 Z" fill="#E28A12" opacity="0.85"/>
<polygon points="1053.80,829.70 1058.93,839.43 1069.78,841.31 1062.11,849.20 1063.67,860.09 1053.80,855.24 1043.93,860.09 1045.49,849.20 1037.82,841.31 1048.67,839.43" fill="none" stroke="#EDBA4A" stroke-width="2.4" stroke-linejoin="round"/>
<polygon points="1095.00,829.70 1100.13,839.43 1110.98,841.31 1103.31,849.20 1104.87,860.09 1095.00,855.24 1085.13,860.09 1086.69,849.20 1079.02,841.31 1089.87,839.43" fill="none" stroke="#EDBA4A" stroke-width="2.4" stroke-linejoin="round"/>
<polygon points="1210.50,828.80 1216.17,839.20 1227.81,841.38 1219.67,849.98 1221.20,861.72 1210.50,856.65 1199.80,861.72 1201.33,849.98 1193.19,841.38 1204.83,839.20" fill="#FAB12D" stroke="#F8AC29" stroke-width="2.5" stroke-linejoin="round"/>
<path d="M 1210.80,830.00 Q 1212.50,832.00 1214.10,840.50 L 1211.70,840.80 Q 1210.20,835.00 1210.80,830.00 Z" fill="#FFD748"/>
<path d="M 1217.50,847.80 L 1226.00,842.20 L 1223.00,842.70 L 1217.00,845.50 Z" fill="#E28A12" opacity="0.85"/>
<polygon points="1251.60,828.80 1257.27,839.20 1268.91,841.38 1260.77,849.98 1262.30,861.72 1251.60,856.65 1240.90,861.72 1242.43,849.98 1234.29,841.38 1245.93,839.20" fill="#FAB12D" stroke="#F8AC29" stroke-width="2.5" stroke-linejoin="round"/>
<path d="M 1251.90,830.00 Q 1253.60,832.00 1255.20,840.50 L 1252.80,840.80 Q 1251.30,835.00 1251.90,830.00 Z" fill="#FFD748"/>
<path d="M 1258.60,847.80 L 1267.10,842.20 L 1264.10,842.70 L 1258.10,845.50 Z" fill="#E28A12" opacity="0.85"/>
<polygon points="1293.00,828.80 1298.67,839.20 1310.31,841.38 1302.17,849.98 1303.70,861.72 1293.00,856.65 1282.30,861.72 1283.83,849.98 1275.69,841.38 1287.33,839.20" fill="#FAB12D" stroke="#F8AC29" stroke-width="2.5" stroke-linejoin="round"/>
<path d="M 1293.30,830.00 Q 1295.00,832.00 1296.60,840.50 L 1294.20,840.80 Q 1292.70,835.00 1293.30,830.00 Z" fill="#FFD748"/>
<path d="M 1300.00,847.80 L 1308.50,842.20 L 1305.50,842.70 L 1299.50,845.50 Z" fill="#E28A12" opacity="0.85"/>
<polygon points="1334.50,828.80 1340.17,839.20 1351.81,841.38 1343.67,849.98 1345.20,861.72 1334.50,856.65 1323.80,861.72 1325.33,849.98 1317.19,841.38 1328.83,839.20" fill="#FAB12D" stroke="#F8AC29" stroke-width="2.5" stroke-linejoin="round"/>
<path d="M 1334.80,830.00 Q 1336.50,832.00 1338.10,840.50 L 1335.70,840.80 Q 1334.20,835.00 1334.80,830.00 Z" fill="#FFD748"/>
<path d="M 1341.50,847.80 L 1350.00,842.20 L 1347.00,842.70 L 1341.00,845.50 Z" fill="#E28A12" opacity="0.85"/>
<polygon points="1375.60,829.70 1380.73,839.43 1391.58,841.31 1383.91,849.20 1385.47,860.09 1375.60,855.24 1365.73,860.09 1367.29,849.20 1359.62,841.31 1370.47,839.43" fill="none" stroke="#E59A55" stroke-width="2.4" stroke-linejoin="round"/>
<polygon points="329.50,1035.80 335.17,1046.20 346.81,1048.38 338.67,1056.98 340.20,1068.72 329.50,1063.65 318.80,1068.72 320.33,1056.98 312.19,1048.38 323.83,1046.20" fill="#FAB12D" stroke="#F8AC29" stroke-width="2.5" stroke-linejoin="round"/>
<path d="M 329.80,1037.00 Q 331.50,1039.00 333.10,1047.50 L 330.70,1047.80 Q 329.20,1042.00 329.80,1037.00 Z" fill="#FFD748"/>
<path d="M 336.50,1054.80 L 345.00,1049.20 L 342.00,1049.70 L 336.00,1052.50 Z" fill="#E28A12" opacity="0.85"/>
<polygon points="371.20,1035.80 376.87,1046.20 388.51,1048.38 380.37,1056.98 381.90,1068.72 371.20,1063.65 360.50,1068.72 362.03,1056.98 353.89,1048.38 365.53,1046.20" fill="#FAB12D" stroke="#F8AC29" stroke-width="2.5" stroke-linejoin="round"/>
<path d="M 371.50,1037.00 Q 373.20,1039.00 374.80,1047.50 L 372.40,1047.80 Q 370.90,1042.00 371.50,1037.00 Z" fill="#FFD748"/>
<path d="M 378.20,1054.80 L 386.70,1049.20 L 383.70,1049.70 L 377.70,1052.50 Z" fill="#E28A12" opacity="0.85"/>
<polygon points="412.60,1035.80 418.27,1046.20 429.91,1048.38 421.77,1056.98 423.30,1068.72 412.60,1063.65 401.90,1068.72 403.43,1056.98 395.29,1048.38 406.93,1046.20" fill="#FAB12D" stroke="#F8AC29" stroke-width="2.5" stroke-linejoin="round"/>
<path d="M 412.90,1037.00 Q 414.60,1039.00 416.20,1047.50 L 413.80,1047.80 Q 412.30,1042.00 412.90,1037.00 Z" fill="#FFD748"/>
<path d="M 419.60,1054.80 L 428.10,1049.20 L 425.10,1049.70 L 419.10,1052.50 Z" fill="#E28A12" opacity="0.85"/>
<polygon points="454.10,1035.80 459.77,1046.20 471.41,1048.38 463.27,1056.98 464.80,1068.72 454.10,1063.65 443.40,1068.72 444.93,1056.98 436.79,1048.38 448.43,1046.20" fill="#FAB12D" stroke="#F8AC29" stroke-width="2.5" stroke-linejoin="round"/>
<path d="M 454.40,1037.00 Q 456.10,1039.00 457.70,1047.50 L 455.30,1047.80 Q 453.80,1042.00 454.40,1037.00 Z" fill="#FFD748"/>
<path d="M 461.10,1054.80 L 469.60,1049.20 L 466.60,1049.70 L 460.60,1052.50 Z" fill="#E28A12" opacity="0.85"/>
<polygon points="495.30,1035.80 500.97,1046.20 512.61,1048.38 504.47,1056.98 506.00,1068.72 495.30,1063.65 484.60,1068.72 486.13,1056.98 477.99,1048.38 489.63,1046.20" fill="#FAB12D" stroke="#F8AC29" stroke-width="2.5" stroke-linejoin="round"/>
<path d="M 495.60,1037.00 Q 497.30,1039.00 498.90,1047.50 L 496.50,1047.80 Q 495.00,1042.00 495.60,1037.00 Z" fill="#FFD748"/>
<path d="M 502.30,1054.80 L 510.80,1049.20 L 507.80,1049.70 L 501.80,1052.50 Z" fill="#E28A12" opacity="0.85"/>
<polygon points="643.20,1035.80 648.87,1046.20 660.51,1048.38 652.37,1056.98 653.90,1068.72 643.20,1063.65 632.50,1068.72 634.03,1056.98 625.89,1048.38 637.53,1046.20" fill="#FAB12D" stroke="#F8AC29" stroke-width="2.5" stroke-linejoin="round"/>
<path d="M 643.50,1037.00 Q 645.20,1039.00 646.80,1047.50 L 644.40,1047.80 Q 642.90,1042.00 643.50,1037.00 Z" fill="#FFD748"/>
<path d="M 650.20,1054.80 L 658.70,1049.20 L 655.70,1049.70 L 649.70,1052.50 Z" fill="#E28A12" opacity="0.85"/>
<polygon points="684.60,1035.80 690.27,1046.20 701.91,1048.38 693.77,1056.98 695.30,1068.72 684.60,1063.65 673.90,1068.72 675.43,1056.98 667.29,1048.38 678.93,1046.20" fill="#FAB12D" stroke="#F8AC29" stroke-width="2.5" stroke-linejoin="round"/>
<path d="M 684.90,1037.00 Q 686.60,1039.00 688.20,1047.50 L 685.80,1047.80 Q 684.30,1042.00 684.90,1037.00 Z" fill="#FFD748"/>
<path d="M 691.60,1054.80 L 700.10,1049.20 L 697.10,1049.70 L 691.10,1052.50 Z" fill="#E28A12" opacity="0.85"/>
<polygon points="726.00,1035.80 731.67,1046.20 743.31,1048.38 735.17,1056.98 736.70,1068.72 726.00,1063.65 715.30,1068.72 716.83,1056.98 708.69,1048.38 720.33,1046.20" fill="#FAB12D" stroke="#F8AC29" stroke-width="2.5" stroke-linejoin="round"/>
<path d="M 726.30,1037.00 Q 728.00,1039.00 729.60,1047.50 L 727.20,1047.80 Q 725.70,1042.00 726.30,1037.00 Z" fill="#FFD748"/>
<path d="M 733.00,1054.80 L 741.50,1049.20 L 738.50,1049.70 L 732.50,1052.50 Z" fill="#E28A12" opacity="0.85"/>
<polygon points="767.00,1036.70 772.13,1046.43 782.98,1048.31 775.31,1056.20 776.87,1067.09 767.00,1062.24 757.13,1067.09 758.69,1056.20 751.02,1048.31 761.87,1046.43" fill="none" stroke="#EDBA4A" stroke-width="2.4" stroke-linejoin="round"/>
<polygon points="810.00,1036.70 815.13,1046.43 825.98,1048.31 818.31,1056.20 819.87,1067.09 810.00,1062.24 800.13,1067.09 801.69,1056.20 794.02,1048.31 804.87,1046.43" fill="none" stroke="#EDBA4A" stroke-width="2.4" stroke-linejoin="round"/>
<polygon points="929.70,1035.80 935.37,1046.20 947.01,1048.38 938.87,1056.98 940.40,1068.72 929.70,1063.65 919.00,1068.72 920.53,1056.98 912.39,1048.38 924.03,1046.20" fill="#FAB12D" stroke="#F8AC29" stroke-width="2.5" stroke-linejoin="round"/>
<path d="M 930.00,1037.00 Q 931.70,1039.00 933.30,1047.50 L 930.90,1047.80 Q 929.40,1042.00 930.00,1037.00 Z" fill="#FFD748"/>
<path d="M 936.70,1054.80 L 945.20,1049.20 L 942.20,1049.70 L 936.20,1052.50 Z" fill="#E28A12" opacity="0.85"/>
<polygon points="971.00,1035.80 976.67,1046.20 988.31,1048.38 980.17,1056.98 981.70,1068.72 971.00,1063.65 960.30,1068.72 961.83,1056.98 953.69,1048.38 965.33,1046.20" fill="#FAB12D" stroke="#F8AC29" stroke-width="2.5" stroke-linejoin="round"/>
<path d="M 971.30,1037.00 Q 973.00,1039.00 974.60,1047.50 L 972.20,1047.80 Q 970.70,1042.00 971.30,1037.00 Z" fill="#FFD748"/>
<path d="M 978.00,1054.80 L 986.50,1049.20 L 983.50,1049.70 L 977.50,1052.50 Z" fill="#E28A12" opacity="0.85"/>
<polygon points="1012.50,1035.80 1018.17,1046.20 1029.81,1048.38 1021.67,1056.98 1023.20,1068.72 1012.50,1063.65 1001.80,1068.72 1003.33,1056.98 995.19,1048.38 1006.83,1046.20" fill="#FAB12D" stroke="#F8AC29" stroke-width="2.5" stroke-linejoin="round"/>
<path d="M 1012.80,1037.00 Q 1014.50,1039.00 1016.10,1047.50 L 1013.70,1047.80 Q 1012.20,1042.00 1012.80,1037.00 Z" fill="#FFD748"/>
<path d="M 1019.50,1054.80 L 1028.00,1049.20 L 1025.00,1049.70 L 1019.00,1052.50 Z" fill="#E28A12" opacity="0.85"/>
<polygon points="1053.80,1035.80 1059.47,1046.20 1071.11,1048.38 1062.97,1056.98 1064.50,1068.72 1053.80,1063.65 1043.10,1068.72 1044.63,1056.98 1036.49,1048.38 1048.13,1046.20" fill="#FAB12D" stroke="#F8AC29" stroke-width="2.5" stroke-linejoin="round"/>
<path d="M 1054.10,1037.00 Q 1055.80,1039.00 1057.40,1047.50 L 1055.00,1047.80 Q 1053.50,1042.00 1054.10,1037.00 Z" fill="#FFD748"/>
<path d="M 1060.80,1054.80 L 1069.30,1049.20 L 1066.30,1049.70 L 1060.30,1052.50 Z" fill="#E28A12" opacity="0.85"/>
<polygon points="1095.00,1036.70 1100.13,1046.43 1110.98,1048.31 1103.31,1056.20 1104.87,1067.09 1095.00,1062.24 1085.13,1067.09 1086.69,1056.20 1079.02,1048.31 1089.87,1046.43" fill="none" stroke="#EDBA4A" stroke-width="2.4" stroke-linejoin="round"/>
<polygon points="1213.80,1035.80 1219.47,1046.20 1231.11,1048.38 1222.97,1056.98 1224.50,1068.72 1213.80,1063.65 1203.10,1068.72 1204.63,1056.98 1196.49,1048.38 1208.13,1046.20" fill="#FAB12D" stroke="#F8AC29" stroke-width="2.5" stroke-linejoin="round"/>
<path d="M 1214.10,1037.00 Q 1215.80,1039.00 1217.40,1047.50 L 1215.00,1047.80 Q 1213.50,1042.00 1214.10,1037.00 Z" fill="#FFD748"/>
<path d="M 1220.80,1054.80 L 1229.30,1049.20 L 1226.30,1049.70 L 1220.30,1052.50 Z" fill="#E28A12" opacity="0.85"/>
<polygon points="1255.30,1035.80 1260.97,1046.20 1272.61,1048.38 1264.47,1056.98 1266.00,1068.72 1255.30,1063.65 1244.60,1068.72 1246.13,1056.98 1237.99,1048.38 1249.63,1046.20" fill="#FAB12D" stroke="#F8AC29" stroke-width="2.5" stroke-linejoin="round"/>
<path d="M 1255.60,1037.00 Q 1257.30,1039.00 1258.90,1047.50 L 1256.50,1047.80 Q 1255.00,1042.00 1255.60,1037.00 Z" fill="#FFD748"/>
<path d="M 1262.30,1054.80 L 1270.80,1049.20 L 1267.80,1049.70 L 1261.80,1052.50 Z" fill="#E28A12" opacity="0.85"/>
<polygon points="1297.20,1036.70 1302.33,1046.43 1313.18,1048.31 1305.51,1056.20 1307.07,1067.09 1297.20,1062.24 1287.33,1067.09 1288.89,1056.20 1281.22,1048.31 1292.07,1046.43" fill="none" stroke="#E59A55" stroke-width="2.4" stroke-linejoin="round"/>
<polygon points="1339.00,1036.70 1344.13,1046.43 1354.98,1048.31 1347.31,1056.20 1348.87,1067.09 1339.00,1062.24 1329.13,1067.09 1330.69,1056.20 1323.02,1048.31 1333.87,1046.43" fill="none" stroke="#E59A55" stroke-width="2.4" stroke-linejoin="round"/>
<polygon points="1382.00,1036.70 1387.13,1046.43 1397.98,1048.31 1390.31,1056.20 1391.87,1067.09 1382.00,1062.24 1372.13,1067.09 1373.69,1056.20 1366.02,1048.31 1376.87,1046.43" fill="none" stroke="#E59A55" stroke-width="2.4" stroke-linejoin="round"/>
<polygon points="329.50,1235.80 335.17,1246.20 346.81,1248.38 338.67,1256.98 340.20,1268.72 329.50,1263.65 318.80,1268.72 320.33,1256.98 312.19,1248.38 323.83,1246.20" fill="#FAB12D" stroke="#F8AC29" stroke-width="2.5" stroke-linejoin="round"/>
<path d="M 329.80,1237.00 Q 331.50,1239.00 333.10,1247.50 L 330.70,1247.80 Q 329.20,1242.00 329.80,1237.00 Z" fill="#FFD748"/>
<path d="M 336.50,1254.80 L 345.00,1249.20 L 342.00,1249.70 L 336.00,1252.50 Z" fill="#E28A12" opacity="0.85"/>
<polygon points="371.20,1235.80 376.87,1246.20 388.51,1248.38 380.37,1256.98 381.90,1268.72 371.20,1263.65 360.50,1268.72 362.03,1256.98 353.89,1248.38 365.53,1246.20" fill="#FAB12D" stroke="#F8AC29" stroke-width="2.5" stroke-linejoin="round"/>
<path d="M 371.50,1237.00 Q 373.20,1239.00 374.80,1247.50 L 372.40,1247.80 Q 370.90,1242.00 371.50,1237.00 Z" fill="#FFD748"/>
<path d="M 378.20,1254.80 L 386.70,1249.20 L 383.70,1249.70 L 377.70,1252.50 Z" fill="#E28A12" opacity="0.85"/>
<polygon points="412.60,1235.80 418.27,1246.20 429.91,1248.38 421.77,1256.98 423.30,1268.72 412.60,1263.65 401.90,1268.72 403.43,1256.98 395.29,1248.38 406.93,1246.20" fill="#FAB12D" stroke="#F8AC29" stroke-width="2.5" stroke-linejoin="round"/>
<path d="M 412.90,1237.00 Q 414.60,1239.00 416.20,1247.50 L 413.80,1247.80 Q 412.30,1242.00 412.90,1237.00 Z" fill="#FFD748"/>
<path d="M 419.60,1254.80 L 428.10,1249.20 L 425.10,1249.70 L 419.10,1252.50 Z" fill="#E28A12" opacity="0.85"/>
<polygon points="454.10,1235.80 459.77,1246.20 471.41,1248.38 463.27,1256.98 464.80,1268.72 454.10,1263.65 443.40,1268.72 444.93,1256.98 436.79,1248.38 448.43,1246.20" fill="#FAB12D" stroke="#F8AC29" stroke-width="2.5" stroke-linejoin="round"/>
<path d="M 454.40,1237.00 Q 456.10,1239.00 457.70,1247.50 L 455.30,1247.80 Q 453.80,1242.00 454.40,1237.00 Z" fill="#FFD748"/>
<path d="M 461.10,1254.80 L 469.60,1249.20 L 466.60,1249.70 L 460.60,1252.50 Z" fill="#E28A12" opacity="0.85"/>
<polygon points="495.30,1235.80 500.97,1246.20 512.61,1248.38 504.47,1256.98 506.00,1268.72 495.30,1263.65 484.60,1268.72 486.13,1256.98 477.99,1248.38 489.63,1246.20" fill="#FAB12D" stroke="#F8AC29" stroke-width="2.5" stroke-linejoin="round"/>
<path d="M 495.60,1237.00 Q 497.30,1239.00 498.90,1247.50 L 496.50,1247.80 Q 495.00,1242.00 495.60,1237.00 Z" fill="#FFD748"/>
<path d="M 502.30,1254.80 L 510.80,1249.20 L 507.80,1249.70 L 501.80,1252.50 Z" fill="#E28A12" opacity="0.85"/>
<polygon points="643.20,1235.80 648.87,1246.20 660.51,1248.38 652.37,1256.98 653.90,1268.72 643.20,1263.65 632.50,1268.72 634.03,1256.98 625.89,1248.38 637.53,1246.20" fill="#FAB12D" stroke="#F8AC29" stroke-width="2.5" stroke-linejoin="round"/>
<path d="M 643.50,1237.00 Q 645.20,1239.00 646.80,1247.50 L 644.40,1247.80 Q 642.90,1242.00 643.50,1237.00 Z" fill="#FFD748"/>
<path d="M 650.20,1254.80 L 658.70,1249.20 L 655.70,1249.70 L 649.70,1252.50 Z" fill="#E28A12" opacity="0.85"/>
<polygon points="684.60,1235.80 690.27,1246.20 701.91,1248.38 693.77,1256.98 695.30,1268.72 684.60,1263.65 673.90,1268.72 675.43,1256.98 667.29,1248.38 678.93,1246.20" fill="#FAB12D" stroke="#F8AC29" stroke-width="2.5" stroke-linejoin="round"/>
<path d="M 684.90,1237.00 Q 686.60,1239.00 688.20,1247.50 L 685.80,1247.80 Q 684.30,1242.00 684.90,1237.00 Z" fill="#FFD748"/>
<path d="M 691.60,1254.80 L 700.10,1249.20 L 697.10,1249.70 L 691.10,1252.50 Z" fill="#E28A12" opacity="0.85"/>
<polygon points="726.00,1235.80 731.67,1246.20 743.31,1248.38 735.17,1256.98 736.70,1268.72 726.00,1263.65 715.30,1268.72 716.83,1256.98 708.69,1248.38 720.33,1246.20" fill="#FAB12D" stroke="#F8AC29" stroke-width="2.5" stroke-linejoin="round"/>
<path d="M 726.30,1237.00 Q 728.00,1239.00 729.60,1247.50 L 727.20,1247.80 Q 725.70,1242.00 726.30,1237.00 Z" fill="#FFD748"/>
<path d="M 733.00,1254.80 L 741.50,1249.20 L 738.50,1249.70 L 732.50,1252.50 Z" fill="#E28A12" opacity="0.85"/>
<polygon points="767.00,1235.80 772.67,1246.20 784.31,1248.38 776.17,1256.98 777.70,1268.72 767.00,1263.65 756.30,1268.72 757.83,1256.98 749.69,1248.38 761.33,1246.20" fill="#FAB12D" stroke="#F8AC29" stroke-width="2.5" stroke-linejoin="round"/>
<path d="M 767.30,1237.00 Q 769.00,1239.00 770.60,1247.50 L 768.20,1247.80 Q 766.70,1242.00 767.30,1237.00 Z" fill="#FFD748"/>
<path d="M 774.00,1254.80 L 782.50,1249.20 L 779.50,1249.70 L 773.50,1252.50 Z" fill="#E28A12" opacity="0.85"/>
<polygon points="810.00,1236.70 815.13,1246.43 825.98,1248.31 818.31,1256.20 819.87,1267.09 810.00,1262.24 800.13,1267.09 801.69,1256.20 794.02,1248.31 804.87,1246.43" fill="none" stroke="#EDBA4A" stroke-width="2.4" stroke-linejoin="round"/>
<polygon points="929.70,1235.80 935.37,1246.20 947.01,1248.38 938.87,1256.98 940.40,1268.72 929.70,1263.65 919.00,1268.72 920.53,1256.98 912.39,1248.38 924.03,1246.20" fill="#FAB12D" stroke="#F8AC29" stroke-width="2.5" stroke-linejoin="round"/>
<path d="M 930.00,1237.00 Q 931.70,1239.00 933.30,1247.50 L 930.90,1247.80 Q 929.40,1242.00 930.00,1237.00 Z" fill="#FFD748"/>
<path d="M 936.70,1254.80 L 945.20,1249.20 L 942.20,1249.70 L 936.20,1252.50 Z" fill="#E28A12" opacity="0.85"/>
<polygon points="971.00,1235.80 976.67,1246.20 988.31,1248.38 980.17,1256.98 981.70,1268.72 971.00,1263.65 960.30,1268.72 961.83,1256.98 953.69,1248.38 965.33,1246.20" fill="#FAB12D" stroke="#F8AC29" stroke-width="2.5" stroke-linejoin="round"/>
<path d="M 971.30,1237.00 Q 973.00,1239.00 974.60,1247.50 L 972.20,1247.80 Q 970.70,1242.00 971.30,1237.00 Z" fill="#FFD748"/>
<path d="M 978.00,1254.80 L 986.50,1249.20 L 983.50,1249.70 L 977.50,1252.50 Z" fill="#E28A12" opacity="0.85"/>
<polygon points="1012.50,1235.80 1018.17,1246.20 1029.81,1248.38 1021.67,1256.98 1023.20,1268.72 1012.50,1263.65 1001.80,1268.72 1003.33,1256.98 995.19,1248.38 1006.83,1246.20" fill="#FAB12D" stroke="#F8AC29" stroke-width="2.5" stroke-linejoin="round"/>
<path d="M 1012.80,1237.00 Q 1014.50,1239.00 1016.10,1247.50 L 1013.70,1247.80 Q 1012.20,1242.00 1012.80,1237.00 Z" fill="#FFD748"/>
<path d="M 1019.50,1254.80 L 1028.00,1249.20 L 1025.00,1249.70 L 1019.00,1252.50 Z" fill="#E28A12" opacity="0.85"/>
<polygon points="1053.80,1235.80 1059.47,1246.20 1071.11,1248.38 1062.97,1256.98 1064.50,1268.72 1053.80,1263.65 1043.10,1268.72 1044.63,1256.98 1036.49,1248.38 1048.13,1246.20" fill="#FAB12D" stroke="#F8AC29" stroke-width="2.5" stroke-linejoin="round"/>
<path d="M 1054.10,1237.00 Q 1055.80,1239.00 1057.40,1247.50 L 1055.00,1247.80 Q 1053.50,1242.00 1054.10,1237.00 Z" fill="#FFD748"/>
<path d="M 1060.80,1254.80 L 1069.30,1249.20 L 1066.30,1249.70 L 1060.30,1252.50 Z" fill="#E28A12" opacity="0.85"/>
<polygon points="1095.00,1236.70 1100.13,1246.43 1110.98,1248.31 1103.31,1256.20 1104.87,1267.09 1095.00,1262.24 1085.13,1267.09 1086.69,1256.20 1079.02,1248.31 1089.87,1246.43" fill="none" stroke="#EDBA4A" stroke-width="2.4" stroke-linejoin="round"/>
<polygon points="1213.80,1235.80 1219.47,1246.20 1231.11,1248.38 1222.97,1256.98 1224.50,1268.72 1213.80,1263.65 1203.10,1268.72 1204.63,1256.98 1196.49,1248.38 1208.13,1246.20" fill="#FAB12D" stroke="#F8AC29" stroke-width="2.5" stroke-linejoin="round"/>
<path d="M 1214.10,1237.00 Q 1215.80,1239.00 1217.40,1247.50 L 1215.00,1247.80 Q 1213.50,1242.00 1214.10,1237.00 Z" fill="#FFD748"/>
<path d="M 1220.80,1254.80 L 1229.30,1249.20 L 1226.30,1249.70 L 1220.30,1252.50 Z" fill="#E28A12" opacity="0.85"/>
<polygon points="1255.30,1235.80 1260.97,1246.20 1272.61,1248.38 1264.47,1256.98 1266.00,1268.72 1255.30,1263.65 1244.60,1268.72 1246.13,1256.98 1237.99,1248.38 1249.63,1246.20" fill="#FAB12D" stroke="#F8AC29" stroke-width="2.5" stroke-linejoin="round"/>
<path d="M 1255.60,1237.00 Q 1257.30,1239.00 1258.90,1247.50 L 1256.50,1247.80 Q 1255.00,1242.00 1255.60,1237.00 Z" fill="#FFD748"/>
<path d="M 1262.30,1254.80 L 1270.80,1249.20 L 1267.80,1249.70 L 1261.80,1252.50 Z" fill="#E28A12" opacity="0.85"/>
<polygon points="1297.20,1235.80 1302.87,1246.20 1314.51,1248.38 1306.37,1256.98 1307.90,1268.72 1297.20,1263.65 1286.50,1268.72 1288.03,1256.98 1279.89,1248.38 1291.53,1246.20" fill="#FAB12D" stroke="#F8AC29" stroke-width="2.5" stroke-linejoin="round"/>
<path d="M 1297.50,1237.00 Q 1299.20,1239.00 1300.80,1247.50 L 1298.40,1247.80 Q 1296.90,1242.00 1297.50,1237.00 Z" fill="#FFD748"/>
<path d="M 1304.20,1254.80 L 1312.70,1249.20 L 1309.70,1249.70 L 1303.70,1252.50 Z" fill="#E28A12" opacity="0.85"/>
<polygon points="1339.00,1236.70 1344.13,1246.43 1354.98,1248.31 1347.31,1256.20 1348.87,1267.09 1339.00,1262.24 1329.13,1267.09 1330.69,1256.20 1323.02,1248.31 1333.87,1246.43" fill="none" stroke="#E59A55" stroke-width="2.4" stroke-linejoin="round"/>
<polygon points="1382.00,1236.70 1387.13,1246.43 1397.98,1248.31 1390.31,1256.20 1391.87,1267.09 1382.00,1262.24 1372.13,1267.09 1373.69,1256.20 1366.02,1248.31 1376.87,1246.43" fill="none" stroke="#E59A55" stroke-width="2.4" stroke-linejoin="round"/>
<text x="5.00" y="69.60" font-family="Liberation Serif" font-weight="bold" font-size="79.2" fill="#2F2F33" textLength="199.30" lengthAdjust="spacingAndGlyphs" stroke="#2F2F33" stroke-width="1.4">WHY</text>
<text x="226.70" y="69.60" font-family="Liberation Serif" font-weight="bold" font-size="79.2" fill="#2F2F33" textLength="336.21" lengthAdjust="spacingAndGlyphs" stroke="#2F2F33" stroke-width="1.4">CHOOSE</text>
<text x="583.00" y="69.60" font-family="Liberation Serif" font-weight="bold" font-size="79.2" fill="#2F2F33" textLength="530.76" lengthAdjust="spacingAndGlyphs" stroke="#2F2F33" stroke-width="1.4">ALUMINIZED</text>
<text x="1138.50" y="69.60" font-family="Liberation Serif" font-weight="bold" font-size="79.2" fill="#2F2F33" textLength="279.45" lengthAdjust="spacingAndGlyphs" stroke="#2F2F33" stroke-width="1.4">STEEL?</text>
<text x="18.10" y="159.80" font-family="Liberation Sans" font-weight="normal" font-size="54" fill="#2C2C2C" textLength="33.15" lengthAdjust="spacingAndGlyphs">A</text>
<text x="69.10" y="159.80" font-family="Liberation Sans" font-weight="normal" font-size="54" fill="#2C2C2C" textLength="106.66" lengthAdjust="spacingAndGlyphs">New</text>
<text x="195.60" y="159.80" font-family="Liberation Sans" font-weight="normal" font-size="54" fill="#2C2C2C" textLength="341.15" lengthAdjust="spacingAndGlyphs">Breakthrough</text>
<text x="557.00" y="159.80" font-family="Liberation Sans" font-weight="normal" font-size="54" fill="#2C2C2C" textLength="40.41" lengthAdjust="spacingAndGlyphs">in</text>
<text x="619.30" y="159.80" font-family="Liberation Sans" font-weight="normal" font-size="54" fill="#2C2C2C" textLength="239.91" lengthAdjust="spacingAndGlyphs">Bakeware</text>
<text x="56.50" y="429.05" font-family="Liberation Sans" font-weight="normal" font-size="32.6" fill="#2A2A2A" textLength="122.15" lengthAdjust="spacingAndGlyphs" stroke="#2A2A2A" stroke-width="0.8">Feature</text>
<text x="253.70" y="555.80" font-family="Liberation Sans" font-weight="normal" font-size="41.3" fill="#FFFFFF" textLength="322.54" lengthAdjust="spacingAndGlyphs" stroke="#FFFFFF" stroke-width="1.35">Aluminized Steel</text>
<text x="628.40" y="555.10" font-family="Liberation Sans" font-weight="normal" font-size="38" fill="#2A2A2A" textLength="200.55" lengthAdjust="spacingAndGlyphs" stroke="#2A2A2A" stroke-width="1.25">Aluminum</text>
<text x="905.00" y="554.50" font-family="Liberation Sans" font-weight="normal" font-size="38" fill="#2A2A2A" textLength="223.38" lengthAdjust="spacingAndGlyphs" stroke="#2A2A2A" stroke-width="1.25">Carbon Steel</text>
<text x="1226.30" y="528.00" font-family="Liberation Sans" font-weight="normal" font-size="38" fill="#2A2A2A" textLength="155.71" lengthAdjust="spacingAndGlyphs" stroke="#2A2A2A" stroke-width="1.25">Stainless</text>
<text x="1261.60" y="571.30" font-family="Liberation Sans" font-weight="normal" font-size="38" fill="#2A2A2A" textLength="84.39" lengthAdjust="spacingAndGlyphs" stroke="#2A2A2A" stroke-width="1.25">steel</text>
<text x="47.30" y="702.70" font-family="Liberation Sans" font-weight="normal" font-size="29.4" fill="#2A2A2A" textLength="141.44" lengthAdjust="spacingAndGlyphs" stroke="#2A2A2A" stroke-width="0.8">Durability</text>
<text x="40.00" y="879.40" font-family="Liberation Sans" font-weight="normal" font-size="29.4" fill="#2A2A2A" textLength="140.41" lengthAdjust="spacingAndGlyphs" stroke="#2A2A2A" stroke-width="0.8">Corrosion</text>
<text x="40.00" y="914.80" font-family="Liberation Sans" font-weight="normal" font-size="29.4" fill="#2A2A2A" textLength="153.36" lengthAdjust="spacingAndGlyphs" stroke="#2A2A2A" stroke-width="0.8">Resistance</text>
<text x="51.30" y="1118.40" font-family="Liberation Sans" font-weight="normal" font-size="29.4" fill="#2A2A2A" textLength="135.26" lengthAdjust="spacingAndGlyphs" stroke="#2A2A2A" stroke-width="0.8">Non-stick</text>
<text x="83.50" y="1287.70" font-family="Liberation Sans" font-weight="normal" font-size="29.4" fill="#2A2A2A" textLength="66.07" lengthAdjust="spacingAndGlyphs" stroke="#2A2A2A" stroke-width="0.8">Heat</text>
<text x="29.50" y="1322.70" font-family="Liberation Sans" font-weight="normal" font-size="29.4" fill="#2A2A2A" textLength="181.36" lengthAdjust="spacingAndGlyphs" stroke="#2A2A2A" stroke-width="0.8">Conductivity</text>
<text x="319.90" y="706.90" font-family="Liberation Sans" font-weight="normal" font-size="28.8" fill="#F7F5EF" textLength="179.42" lengthAdjust="spacingAndGlyphs" stroke="#877A70" stroke-width="0.4">Highly durable,</text>
<text x="319.90" y="738.40" font-family="Liberation Sans" font-weight="normal" font-size="28.8" fill="#F7F5EF" textLength="186.13" lengthAdjust="spacingAndGlyphs" stroke="#877A70" stroke-width="0.4">no deformation</text>
<text x="613.90" y="707.00" font-family="Liberation Sans" font-weight="normal" font-size="28.8" fill="#4B4843" textLength="227.26" lengthAdjust="spacingAndGlyphs" stroke="#E3E1DA" stroke-width="0.7">Durable, but prone</text>
<text x="640.20" y="738.50" font-family="Liberation Sans" font-weight="normal" font-size="28.8" fill="#4B4843" textLength="179.14" lengthAdjust="spacingAndGlyphs" stroke="#E3E1DA" stroke-width="0.7">to deformation</text>
<text x="928.40" y="718.20" font-family="Liberation Sans" font-weight="normal" font-size="28.8" fill="#4B4843" textLength="162.76" lengthAdjust="spacingAndGlyphs" stroke="#E3E1DA" stroke-width="0.7">Fairly durable</text>
<text x="1205.60" y="704.70" font-family="Liberation Sans" font-weight="normal" font-size="28.8" fill="#4B4843" textLength="182.92" lengthAdjust="spacingAndGlyphs" stroke="#E3E1DA" stroke-width="0.7">Fair at resisting</text>
<text x="1241.20" y="735.70" font-family="Liberation Sans" font-weight="normal" font-size="28.8" fill="#4B4843" textLength="112.38" lengthAdjust="spacingAndGlyphs" stroke="#E3E1DA" stroke-width="0.7">scratches</text>
<text x="296.50" y="907.30" font-family="Liberation Sans" font-weight="normal" font-size="28.8" fill="#F7F5EF" textLength="235.61" lengthAdjust="spacingAndGlyphs" stroke="#877A70" stroke-width="0.4">Corrosion-resistant,</text>
<text x="317.40" y="938.60" font-family="Liberation Sans" font-weight="normal" font-size="28.8" fill="#F7F5EF" textLength="200.84" lengthAdjust="spacingAndGlyphs" stroke="#877A70" stroke-width="0.4">all environments</text>
<text x="616.50" y="907.00" font-family="Liberation Sans" font-weight="normal" font-size="28.8" fill="#4B4843" textLength="221.73" lengthAdjust="spacingAndGlyphs" stroke="#E3E1DA" stroke-width="0.7">Prone to oxidation</text>
<text x="626.50" y="938.80" font-family="Liberation Sans" font-weight="normal" font-size="28.8" fill="#4B4843" textLength="207.62" lengthAdjust="spacingAndGlyphs" stroke="#E3E1DA" stroke-width="0.7">and discoloration</text>
<text x="901.00" y="904.20" font-family="Liberation Sans" font-weight="normal" font-size="28.8" fill="#4B4843" textLength="219.06" lengthAdjust="spacingAndGlyphs" stroke="#E3E1DA" stroke-width="0.7">Rust-prone, needs</text>
<text x="885.50" y="935.60" font-family="Liberation Sans" font-weight="normal" font-size="28.8" fill="#4B4843" textLength="249.06" lengthAdjust="spacingAndGlyphs" stroke="#E3E1DA" stroke-width="0.7">regular maintenance</text>
<text x="1244.70" y="907.00" font-family="Liberation Sans" font-weight="normal" font-size="28.8" fill="#4B4843" textLength="104.04" lengthAdjust="spacingAndGlyphs" stroke="#E3E1DA" stroke-width="0.7">Rust and</text>
<text x="1200.60" y="938.60" font-family="Liberation Sans" font-weight="normal" font-size="28.8" fill="#4B4843" textLength="193.46" lengthAdjust="spacingAndGlyphs" stroke="#E3E1DA" stroke-width="0.7">Corrosion-Proof</text>
<text x="313.90" y="1118.40" font-family="Liberation Sans" font-weight="normal" font-size="28.8" fill="#F7F5EF" textLength="200.25" lengthAdjust="spacingAndGlyphs" stroke="#877A70" stroke-width="0.4">Ceramic coating,</text>
<text x="343.80" y="1149.80" font-family="Liberation Sans" font-weight="normal" font-size="28.8" fill="#F7F5EF" textLength="147.00" lengthAdjust="spacingAndGlyphs" stroke="#877A70" stroke-width="0.4">easy release</text>
<text x="623.50" y="1134.10" font-family="Liberation Sans" font-weight="normal" font-size="28.8" fill="#4B4843" textLength="206.54" lengthAdjust="spacingAndGlyphs" stroke="#E3E1DA" stroke-width="0.7">Food sticks easily</text>
<text x="882.90" y="1134.10" font-family="Liberation Sans" font-weight="normal" font-size="28.8" fill="#4B4843" textLength="251.10" lengthAdjust="spacingAndGlyphs" stroke="#E3E1DA" stroke-width="0.7">Moderately non-stick</text>
<text x="1195.80" y="1114.80" font-family="Liberation Sans" font-weight="normal" font-size="28.8" fill="#4B4843" textLength="210.87" lengthAdjust="spacingAndGlyphs" stroke="#E3E1DA" stroke-width="0.7">Food sticks easier</text>
<text x="1202.40" y="1145.80" font-family="Liberation Sans" font-weight="normal" font-size="28.8" fill="#4B4843" textLength="196.74" lengthAdjust="spacingAndGlyphs" stroke="#E3E1DA" stroke-width="0.7">to stainless steel</text>
<text x="277.50" y="1327.20" font-family="Liberation Sans" font-weight="normal" font-size="28.8" fill="#F7F5EF" textLength="269.11" lengthAdjust="spacingAndGlyphs" stroke="#877A70" stroke-width="0.4">Even heat distribution,</text>
<text x="321.40" y="1358.10" font-family="Liberation Sans" font-weight="normal" font-size="28.8" fill="#F7F5EF" textLength="180.75" lengthAdjust="spacingAndGlyphs" stroke="#877A70" stroke-width="0.4">aluminum core</text>
<text x="642.90" y="1307.00" font-family="Liberation Sans" font-weight="normal" font-size="28.8" fill="#4B4843" textLength="166.55" lengthAdjust="spacingAndGlyphs" stroke="#E3E1DA" stroke-width="0.7">Excellent heat</text>
<text x="655.90" y="1338.80" font-family="Liberation Sans" font-weight="normal" font-size="28.8" fill="#4B4843" textLength="140.00" lengthAdjust="spacingAndGlyphs" stroke="#E3E1DA" stroke-width="0.7">conduction,</text>
<text x="657.60" y="1370.00" font-family="Liberation Sans" font-weight="normal" font-size="28.8" fill="#4B4843" textLength="142.95" lengthAdjust="spacingAndGlyphs" stroke="#E3E1DA" stroke-width="0.7">even baking</text>
<text x="873.50" y="1310.00" font-family="Liberation Sans" font-weight="normal" font-size="28.8" fill="#4B4843" textLength="273.55" lengthAdjust="spacingAndGlyphs" stroke="#E3E1DA" stroke-width="0.7">Good heat conduction,</text>
<text x="915.30" y="1341.80" font-family="Liberation Sans" font-weight="normal" font-size="28.8" fill="#4B4843" textLength="190.59" lengthAdjust="spacingAndGlyphs" stroke="#E3E1DA" stroke-width="0.7">but not as good</text>
<text x="933.00" y="1373.00" font-family="Liberation Sans" font-weight="normal" font-size="28.8" fill="#4B4843" textLength="153.98" lengthAdjust="spacingAndGlyphs" stroke="#E3E1DA" stroke-width="0.7">as aluminum</text>
<text x="1212.40" y="1315.30" font-family="Liberation Sans" font-weight="normal" font-size="28.8" fill="#4B4843" textLength="178.67" lengthAdjust="spacingAndGlyphs" stroke="#E3E1DA" stroke-width="0.7">Uneven &amp; slow</text>
<text x="1224.10" y="1346.50" font-family="Liberation Sans" font-weight="normal" font-size="28.8" fill="#4B4843" textLength="154.08" lengthAdjust="spacingAndGlyphs" stroke="#E3E1DA" stroke-width="0.7">heat transfer</text>
</svg>
</body></html>
